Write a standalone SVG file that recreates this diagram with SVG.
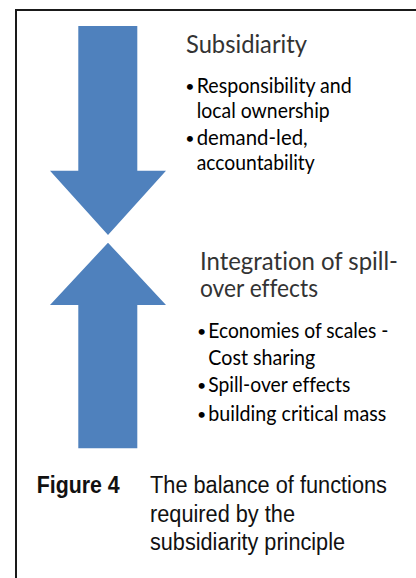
<svg xmlns="http://www.w3.org/2000/svg" width="416" height="578" viewBox="0 0 416 578">
  <style>
    .frame { fill: none; stroke: #1a1a1a; stroke-width: 2; }
    .arrow { fill: #4F81BD; }
    .head { font-family: Lato, "Open Sans", "Liberation Sans", sans-serif; font-size: 25.5px; fill: #333333; font-variant-ligatures: none; }
    .item { font-family: Lato, "Open Sans", "Liberation Sans", sans-serif; font-size: 21px; fill: #000000; font-variant-ligatures: none; }
    .dot { font-family: Lato, "Open Sans", "Liberation Sans", sans-serif; font-size: 16px; fill: #000000; text-anchor: end; }
    .cap { font-family: "Liberation Sans", Arial, sans-serif; font-size: 23px; fill: #111111; }
    .capb { font-weight: bold; }
  </style>

  <rect width="416" height="578" fill="#ffffff"/>

  <!-- open frame: top and left rules -->
  <g id="frame">
    <path class="frame" d="M16,578 V10 H416"/>
  </g>

  <!-- block arrows pointing at each other -->
  <g id="arrow-down">
    <polygon class="arrow" points="78.3,26 137.3,26 137.3,170.7 166,170.7 108,235 50,170.7 78.3,170.7"/>
  </g>
  <g id="arrow-up">
    <polygon class="arrow" points="108,242.7 166,305 137.3,305 137.3,448.3 78.3,448.3 78.3,305 50,305"/>
  </g>

  <!-- upper text block -->
  <g id="subsidiarity">
    <text class="head" x="186" y="53" textLength="121" lengthAdjust="spacingAndGlyphs">Subsidiarity</text>
    <text class="dot" x="194.5" y="91.5">•</text>
    <text class="item" x="196.7" y="92.5" textLength="155" lengthAdjust="spacingAndGlyphs">Responsibility and</text>
    <text class="item" x="196.7" y="117.5" textLength="133" lengthAdjust="spacingAndGlyphs">local ownership</text>
    <text class="dot" x="194.5" y="144">•</text>
    <text class="item" x="196.7" y="145" textLength="111" lengthAdjust="spacingAndGlyphs">demand-led,</text>
    <text class="item" x="196.7" y="170" textLength="118" lengthAdjust="spacingAndGlyphs">accountability</text>
  </g>

  <!-- lower text block -->
  <g id="integration">
    <text class="head" x="200" y="270" textLength="198" lengthAdjust="spacingAndGlyphs">Integration of spill-</text>
    <text class="head" x="200" y="297" textLength="118" lengthAdjust="spacingAndGlyphs">over effects</text>
    <text class="dot" x="206.3" y="337.3">•</text>
    <text class="item" x="208.3" y="338.3" textLength="180" lengthAdjust="spacingAndGlyphs">Economies of scales -</text>
    <text class="item" x="208.3" y="364.5" textLength="107" lengthAdjust="spacingAndGlyphs">Cost sharing</text>
    <text class="dot" x="206.3" y="390.7">•</text>
    <text class="item" x="208.3" y="391.7" textLength="142" lengthAdjust="spacingAndGlyphs">Spill-over effects</text>
    <text class="dot" x="206.3" y="419.5">•</text>
    <text class="item" x="208.3" y="420.5" textLength="178" lengthAdjust="spacingAndGlyphs">building critical mass</text>
  </g>

  <!-- caption -->
  <g id="caption">
    <text class="cap capb" x="36.7" y="493.3" textLength="83" lengthAdjust="spacingAndGlyphs">Figure 4</text>
    <text class="cap" x="150" y="493.3" textLength="237" lengthAdjust="spacingAndGlyphs">The balance of functions</text>
    <text class="cap" x="150" y="521.7" textLength="145" lengthAdjust="spacingAndGlyphs">required by the</text>
    <text class="cap" x="150" y="550" textLength="195" lengthAdjust="spacingAndGlyphs">subsidiarity principle</text>
  </g>
</svg>
